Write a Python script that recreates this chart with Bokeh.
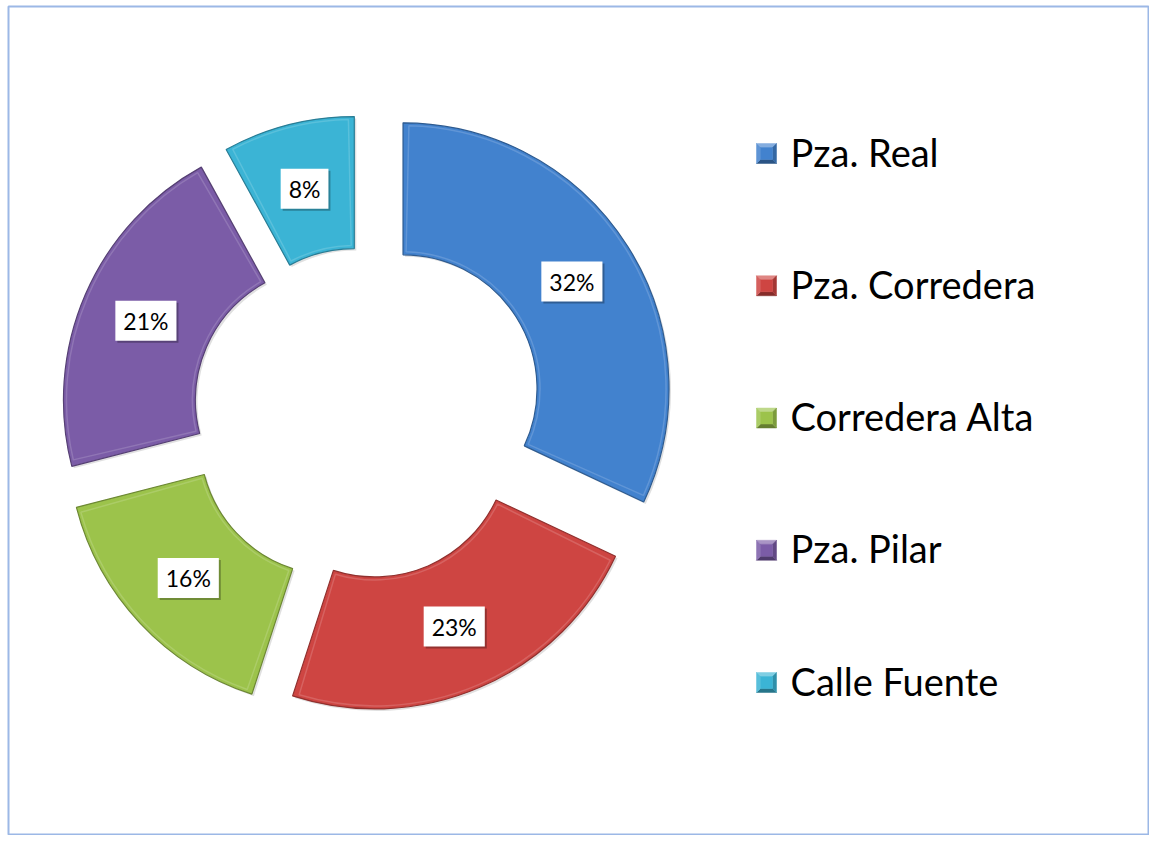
import math
from bokeh.plotting import figure
from bokeh.models import Range1d, ColumnDataSource
from bokeh.core.properties import value
from bokeh.embed import file_html
from bokeh.resources import INLINE

# ---- data ----
categories = ["Pza. Real", "Pza. Corredera", "Corredera Alta", "Pza. Pilar", "Calle Fuente"]
shares = [32, 23, 16, 21, 8]
labels = ["32%", "23%", "16%", "21%", "8%"]

# ---- styles ----
colors = ["#4282CE", "#CE4542", "#9CC34B", "#7B5CA7", "#3BB4D5"]
explode = [48, 31, 39, 36, 33]


def shade(hexc, f):
    r, g, b = int(hexc[1:3], 16), int(hexc[3:5], 16), int(hexc[5:7], 16)
    if f >= 0:
        r, g, b = [int(c + (255 - c) * f) for c in (r, g, b)]
    else:
        r, g, b = [int(c * (1 + f)) for c in (r, g, b)]
    return "#%02x%02x%02x" % (r, g, b)


W, H = 1149, 835
FL, FT, FB = 8, 6, 1          # frame borders (left, top, bottom)
CX, CY = 362, 414
R_OUT, R_IN = 266, 134
LABEL_R = 200
SH = 2
BEV = 3
FONT = "Lato"

p = figure(width=W, height=H, output_backend="svg", toolbar_location=None,
           x_range=Range1d(FL, W), y_range=Range1d(-(H - FB), -FT),
           x_axis_type=None, y_axis_type=None,
           min_border_left=FL, min_border_top=FT, min_border_bottom=FB,
           min_border_right=0)
p.grid.visible = False
p.outline_line_color = "#9CB8E6"
p.outline_line_width = 2
p.background_fill_color = "white"
p.border_fill_color = "white"

total = sum(shares)
xs, ys, st, en, lx, ly, bst, ben = [], [], [], [], [], [], [], []
acc = 0
for v, d in zip(shares, explode):
    t1 = acc / total * 2 * math.pi
    acc += v
    t2 = acc / total * 2 * math.pi
    tm = (t1 + t2) / 2
    cx = CX + d * math.sin(tm)
    cy = -CY + d * math.cos(tm)
    xs.append(cx); ys.append(cy)
    st.append(math.pi / 2 - t2); en.append(math.pi / 2 - t1)
    bst.append(math.pi / 2 - t2 + BEV / R_IN); ben.append(math.pi / 2 - t1 - BEV / R_IN)
    lx.append(cx + LABEL_R * math.sin(tm)); ly.append(cy + LABEL_R * math.cos(tm))

src = ColumnDataSource(dict(x=xs, y=ys, sx=[x + SH for x in xs], sy=[y - SH for y in ys],
                            start=st, end=en, bstart=bst, bend=ben, color=colors,
                            edge=[shade(c, -0.3) for c in colors],
                            hi=[shade(c, 0.35) for c in colors],
                            lx=lx, ly=ly, label=labels))

# soft shadow
p.annular_wedge(x="sx", y="sy", inner_radius=R_IN, outer_radius=R_OUT,
                start_angle="start", end_angle="end", fill_color="#000000",
                fill_alpha=0.12, line_color=None, source=src)
p.annular_wedge(x="x", y="y", inner_radius=R_IN, outer_radius=R_OUT,
                start_angle="start", end_angle="end", fill_color="color",
                line_color="edge", line_width=1.2, source=src)
# bevel highlight
p.annular_wedge(x="x", y="y", inner_radius=R_IN + BEV, outer_radius=R_OUT - BEV,
                start_angle="bstart", end_angle="bend", fill_color=None,
                line_color="hi", line_alpha=0.45, line_width=1.5, source=src)

# label boxes (shadow + box)
p.text(x="lx", y="ly", text="label", source=src, text_alpha=0,
       text_font=value(FONT), text_font_size="23px",
       text_align="center", text_baseline="middle",
       background_fill_color="#000000", background_fill_alpha=0.28,
       padding=(8, 6), x_offset=2, y_offset=2)
p.text(x="lx", y="ly", text="label", source=src, text_color="black",
       text_font=value(FONT), text_font_size="23px",
       text_align="center", text_baseline="middle",
       background_fill_color="white", padding=(8, 6))

# legend (manual)
LX = 766
LY0 = 153
LSTEP = 132.25
HS = 10
BV = 4
top_p, left_p, bot_p, right_p, mid_p = [[], []], [[], []], [[], []], [[], []], [[], []]
tcol, lcol, bcol, rcol, mcol = [], [], [], [], []
ty = []
for i, c in enumerate(colors):
    my = -(LY0 + i * LSTEP)
    x0, x1, y0, y1 = LX - HS, LX + HS, my - HS, my + HS
    a0, a1, b0, b1 = x0 + BV, x1 - BV, y0 + BV, y1 - BV
    top_p[0].append([x0, x1, a1, a0]); top_p[1].append([y1, y1, b1, b1])
    bot_p[0].append([x0, x1, a1, a0]); bot_p[1].append([y0, y0, b0, b0])
    left_p[0].append([x0, a0, a0, x0]); left_p[1].append([y0, b0, b1, y1])
    right_p[0].append([x1, a1, a1, x1]); right_p[1].append([y0, b0, b1, y1])
    mid_p[0].append([a0, a1, a1, a0]); mid_p[1].append([b0, b0, b1, b1])
    tcol.append(shade(c, 0.35)); lcol.append(shade(c, 0.15))
    bcol.append(shade(c, -0.35)); rcol.append(shade(c, -0.2)); mcol.append(c)
    ty.append(my + 2)

for poly, col in ((top_p, tcol), (bot_p, bcol), (left_p, lcol), (right_p, rcol), (mid_p, mcol)):
    p.patches(xs=poly[0], ys=poly[1], fill_color=col, line_color=col, line_width=0.5)

p.text(x=[LX + 24] * len(categories), y=ty, text=categories, text_color="black",
       text_font=value(FONT), text_font_size="38px", text_baseline="middle")

open("out.html", "w").write(file_html(p, INLINE))
